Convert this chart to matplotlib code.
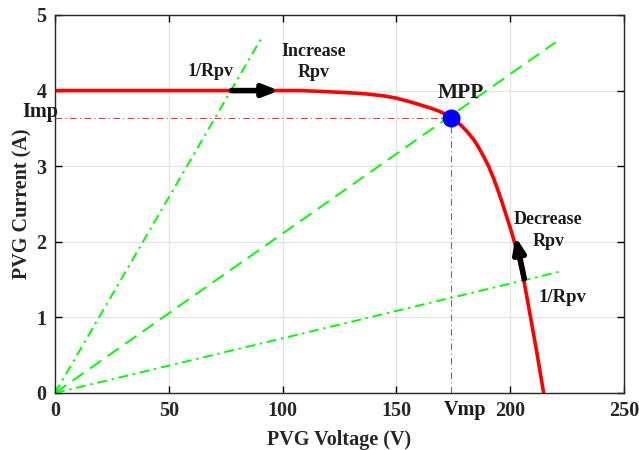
import matplotlib
matplotlib.use("Agg")
import matplotlib.pyplot as plt

# I-V curve
volt = [0, 50, 100, 107.7, 120, 129.7, 137, 144.4, 150, 156.1, 160.5, 164.9, 168.5,
        172.2, 174, 178.1, 181, 184, 186, 188.3, 190.5, 192.7, 195, 197.1, 200.8,
        203.5, 206, 208.9, 211.8, 214.7]
curr = [4.0, 4.0, 4.0, 4.0, 3.985, 3.97, 3.955, 3.93, 3.90, 3.85, 3.81, 3.77, 3.73,
        3.68, 3.64, 3.55, 3.46, 3.35, 3.255, 3.13, 3.00, 2.84, 2.65, 2.46, 2.11,
        1.82, 1.49, 1.01, 0.52, 0.0]

v_mpp, i_mpp = 174, 3.64
# load lines (end points)
line1_v, line1_i = [0, 91], [0, 4.71]
line2_v, line2_i = [0, 220], [0, 4.64]
line3_v, line3_i = [0, 222.5], [0, 1.61]

xticks = [0, 50, 100, 150, 200, 250]
yticks = [0, 1, 2, 3, 4, 5]

plt.rcParams['font.family'] = ['Liberation Serif', 'DejaVu Serif']
plt.rcParams['font.weight'] = 'bold'

fig = plt.figure(figsize=(6.39, 4.5), dpi=100)
ax = fig.add_axes([0.086, 0.1267, 0.8905, 0.84])

ax.set_xlim(0, 250)
ax.set_ylim(0, 5)
ax.set_xticks(xticks)
ax.set_yticks(yticks)
ax.grid(True, color='#e3e3e3', lw=0.9)
ax.set_axisbelow(True)
ax.tick_params(direction='in', top=True, right=True, length=5, labelsize=14.5, width=1, pad=6)
for s in ax.spines.values():
    s.set_linewidth(1.0)
    s.set_color('#262626')
for lab in ax.get_xticklabels() + ax.get_yticklabels():
    lab.set_fontweight('bold')
    lab.set_color('#262626')

ax.plot(line1_v, line1_i, color='#00ff00', lw=1.4, ls=(0, (5, 2.5, 1.2, 2.5)))
ax.plot(line2_v, line2_i, color='#00ff00', lw=1.4, ls=(0, (7, 4)))
ax.plot(line3_v, line3_i, color='#00ff00', lw=1.4, ls=(0, (5, 2.5, 1.2, 2.5)))

ax.plot([0, v_mpp], [i_mpp, i_mpp], color='#ff3030', lw=0.8, ls=(0, (6, 3, 1, 3)))
ax.plot([v_mpp, v_mpp], [0, i_mpp], color='#ff3030', lw=0.8, ls=(0, (6, 3, 1, 3)))

ax.plot(volt, curr, color='#ff0000', lw=2.6, solid_joinstyle='round')

ax.plot([v_mpp], [i_mpp], marker='o', ms=12, color='#0000ff', mec='#0000ff')

ax.annotate('', xy=(98.5, 4.0), xytext=(77.5, 4.0),
            arrowprops=dict(arrowstyle='-|>,head_length=0.9,head_width=0.35',
                            lw=4, color='black', shrinkA=0, shrinkB=0))
ax.annotate('', xy=(202.3, 2.07), xytext=(206.2, 1.51),
            arrowprops=dict(arrowstyle='-|>,head_length=0.9,head_width=0.35',
                            lw=4, color='black', shrinkA=0, shrinkB=0))

tkw = dict(fontweight='bold', color='#1a1a1a')
ax.text(68.2, 4.25, '1/Rpv', ha='center', va='center', fontsize=13, **tkw)
ax.text(113.5, 4.38, 'Increase\nRpv', ha='center', va='center', fontsize=13, linespacing=1.35, **tkw)
ax.text(178.5, 3.97, 'MPP', ha='center', va='center', fontsize=15.5, **tkw)
ax.text(216.8, 2.15, 'Decrease\nRpv', ha='center', va='center', fontsize=13, linespacing=1.35, **tkw)
ax.text(223, 1.26, '1/Rpv', ha='center', va='center', fontsize=13.5, **tkw)
ax.text(1.5, 3.72, 'Imp', ha='right', va='center', fontsize=14.5, clip_on=False, **tkw)
ax.text(180, -0.22, 'Vmp', ha='center', va='center', fontsize=14.5, clip_on=False, **tkw)

ax.set_xlabel('PVG Voltage (V)', fontsize=14.5, fontweight='bold', color='#262626', labelpad=6)
ax.set_ylabel('PVG Current (A)', fontsize=14.5, fontweight='bold', color='#262626', labelpad=3)

fig.savefig('out.png', dpi=100)
